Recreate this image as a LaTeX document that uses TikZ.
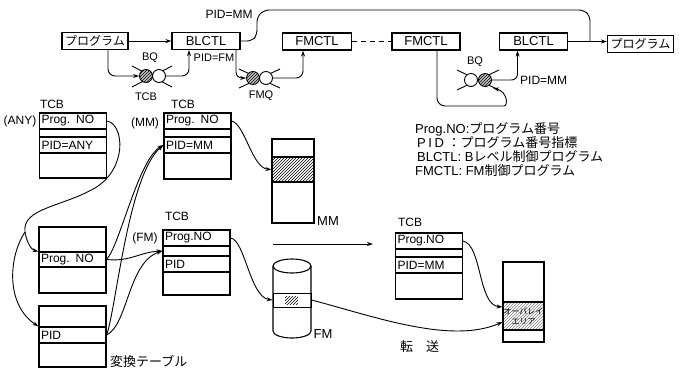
\documentclass[tikz,border=0pt]{standalone}
\usepackage{fontspec}
\setmainfont{Liberation Sans}
\newfontfamily\cjk{Noto Sans CJK JP}
\usetikzlibrary{arrows.meta,patterns}
\begin{document}
\begin{tikzpicture}[x=1pt,y=-1pt,
  box/.style={draw, line width=1.1pt, minimum height=17pt, inner sep=0pt, font=\fontsize{13}{13}\selectfont},
  cell/.style={draw, line width=1.1pt, inner sep=0pt, minimum width=67pt},
  tcell/.style={draw, line width=1.1pt, inner ysep=0pt, inner xsep=2pt, text width=63pt, align=left, minimum height=16pt, font=\fontsize{12}{12}\selectfont},
  lbl/.style={inner sep=0pt, font=\fontsize{12}{12}\selectfont},
  slbl/.style={inner sep=0pt, font=\fontsize{11}{11}\selectfont},
  conn/.style={line width=0.9pt, -{Stealth[length=6pt,width=4pt]}},
  plain/.style={line width=0.9pt},
  qo/.style={circle, draw, line width=0.9pt, minimum size=13pt, inner sep=0pt, fill=white},
  qh/.style={circle, draw, line width=0.9pt, minimum size=13pt, inner sep=0pt, fill=gray!45, postaction={pattern=north east lines}},
  hatch/.style={pattern=north east lines}
]
\useasboundingbox (0,0) rectangle (682,376);

% ---------- top row ----------
\node[box, minimum width=66pt] (prog1) at (95,41) {\cjk\fontsize{12}{12}\selectfont プログラム};
\node[box, minimum width=68pt] (blctl1) at (206,41) {BLCTL};
\node[box, minimum width=69pt] (fmctl1) at (317,41.5) {FMCTL};
\node[box, minimum width=68pt] (fmctl2) at (426,41.5) {FMCTL};
\node[box, minimum width=68pt] (blctl2) at (533.5,41.5) {BLCTL};
\node[box, minimum width=66pt] (prog2) at (640.5,44) {\cjk\fontsize{12}{12}\selectfont プログラム};

\coordinate (jn) at (590,41.5);
\draw[conn] (prog1) -- (blctl1);
\draw[plain, rounded corners=5pt] (blctl1.east) -- (252,41) -- (257,35) -- (257,17) -- (264,10) -- (584,10) -- (590,16) -- (jn);
\node[lbl] (pidmm1) at (229,14) {PID=MM};
\draw[conn] (blctl2.east) -- (blctl2.east -| prog2.west);
\draw[plain, dashed, dash pattern=on 5pt off 4pt] (fmctl1.east) -- (fmctl2.west);

% BQ (left)
\draw[plain] (132,66) -- (172,87);
\draw[plain] (132,87) -- (172,66);
\node[qh] (bq1h) at (146,76) {};
\node[qo] (bq1o) at (159,76) {};
\node[slbl] (bq1l) at (150,58) {BQ};
\node[slbl] (bq1t) at (146,97) {TCB};
\draw[conn, rounded corners=7pt] ([xshift=13pt]prog1.south) |- (bq1h.west);
\draw[conn, rounded corners=7pt] (bq1o.east) -| ([xshift=-17pt]blctl1.south);

% FMQ
\node[slbl] (pidfm) at (214,58) {PID=FM};
\draw[plain] (239,69) -- (280,88);
\draw[plain] (239,88) -- (280,69);
\node[qh] (fmqh) at (253,78) {};
\node[qo] (fmqo) at (266,78) {};
\node[slbl] (fmql) at (261,96) {FMQ};
\draw[conn, rounded corners=6pt] ([xshift=30pt]blctl1.south) |- (fmqh.west);
\draw[conn, rounded corners=7pt] (fmqo.east) -| ([xshift=-14pt]fmctl1.south);

% BQ (right)
\draw[plain] (457,70) -- (499,90);
\draw[plain] (457,90) -- (499,70);
\node[qo] (bq2o) at (471,80) {};
\node[qh] (bq2h) at (485,80) {};
\node[slbl] (bq2l) at (475,62) {BQ};
\draw[conn, rounded corners=6pt] (bq2h.east) -| ([xshift=-16pt]blctl2.south);
\node[lbl, anchor=west] (pidmm2) at (520,80) {PID=MM};
\draw[conn, rounded corners=8pt] ([xshift=11pt]fmctl2.south) |- (496,106) .. controls (508,106) and (508,92) .. (493,88);

% ---------- legend ----------
\node[anchor=west, inner sep=0pt, font=\fontsize{13}{13}\selectfont] (lg1) at (415,129) {Prog.NO:{\cjk プログラム番号}};
\node[anchor=west, inner sep=0pt, font=\fontsize{13}{13}\selectfont] (lg2) at (417,143) {{\addfontfeature{LetterSpace=20}PID} {\cjk ：プログラム番号指標}};
\node[anchor=west, inner sep=0pt, font=\fontsize{13}{13}\selectfont] (lg3) at (417,157) {BLCTL: B{\cjk レベル制御プログラム}};
\node[anchor=west, inner sep=0pt, font=\fontsize{13}{13}\selectfont] (lg4) at (415,171) {FMCTL: FM{\cjk 制御プログラム}};

% ---------- TCB (ANY) ----------
\node[lbl] (tcbany) at (52,104) {TCB};
\node[lbl] (anyl) at (20,121) {(ANY)};
\node[tcell] (any1) at (73,121) {Prog. NO};
\node[cell, minimum height=8pt] (any2) at (73,133) {};
\node[tcell] (any3) at (73,145) {PID=ANY};
\node[cell, minimum height=25pt] (any4) at (73,165.5) {};

% ---------- TCB (MM) ----------
\node[lbl] (tcbmm) at (183,104) {TCB};
\node[lbl] (mml) at (145,123) {(MM)};
\node[tcell] (mm1) at (197.5,121) {Prog. NO};
\node[cell, minimum height=8pt] (mm2) at (197.5,133) {};
\node[tcell] (mm3) at (197.5,145) {PID=MM};
\node[cell, minimum height=26pt] (mm4) at (197.5,166) {};

% ---------- TCB (FM) ----------
\node[lbl] (tcbfm) at (177,216) {TCB};
\node[lbl] (fml) at (145,238) {(FM)};
\node[tcell] (fm1) at (196.5,238) {Prog.NO};
\node[cell, minimum height=10pt] (fm2) at (196.5,251) {};
\node[tcell] (fm3) at (196.5,264) {PID};
\node[cell, minimum height=23pt] (fm4) at (196.5,283.5) {};

% ---------- TCB (right) ----------
\node[lbl] (tcbr) at (410,222) {TCB};
\node[tcell] (r1) at (429,241) {Prog.NO};
\node[cell, minimum height=8pt] (r2) at (429,253) {};
\node[tcell] (r3) at (429,265) {PID=MM};
\node[cell, minimum height=26pt] (r4) at (429,286) {};

% ---------- conversion table ----------
\node[cell, minimum height=25pt] (t1a) at (72.5,239.5) {};
\node[tcell, minimum height=15pt] (t1b) at (72.5,259.5) {Prog. NO};
\node[cell, minimum height=26pt] (t1c) at (72.5,280) {};
\node[cell, minimum height=21pt] (t2a) at (72.5,316.5) {};
\node[tcell] (t2b) at (72.5,335) {PID};
\node[cell, minimum height=24pt] (t2c) at (72.5,355) {};
\node[anchor=west, inner sep=0pt, font=\cjk\fontsize{13}{13}\selectfont] (henkan) at (110,361) {変換テーブル};

% ---------- MM memory ----------
\node[cell, minimum width=42pt, minimum height=84pt] (mmcol) at (293,181) {};
\node[cell, minimum width=42pt, minimum height=25pt, hatch] (mmband) at (293,169.5) {};
\node[inner sep=0pt, font=\fontsize{13}{13}\selectfont] (mmlab) at (328,221) {MM};

% ---------- FM drum ----------
\draw[line width=1.1pt] (292,266) ellipse [x radius=19, y radius=7];
\draw[line width=1.1pt] (273,266) -- (273,331) arc[start angle=180, end angle=0, x radius=19, y radius=7] -- (311,266);
\node[draw, line width=0.9pt, minimum width=38pt, minimum height=14pt, inner sep=0pt] (cylband) at (292,300) {};
\node[minimum width=13pt, minimum height=8pt, inner sep=0pt, hatch] (cylhatch) at (291.5,300.5) {};
\node[inner sep=0pt, font=\fontsize{13}{13}\selectfont] (fmlab) at (323,334) {FM};

% ---------- right memory ----------
\node[cell, minimum width=41pt, minimum height=80pt] (rcol) at (523.5,302) {};
\node[cell, minimum width=41pt, minimum height=28pt, pattern=north east lines, pattern color=gray, align=center, font=\cjk\fontsize{8}{10}\selectfont] (ovl) at (523.5,316) {オーバレイ\\エリア};

% ---------- arrows lower ----------
\coordinate (ha) at (273,244);
\coordinate (hb) at (373,244);
\draw[conn] (ha) -- (hb);

\coordinate (br) at (25,232);
\draw[conn] (any1.east) .. controls (124,124) and (128,168) .. (95,188) .. controls (62,207) and (22,208) .. (br) .. controls (27,244) and (32,250) .. (t1b.north west);
\draw[conn] (br) .. controls (8,258) and (6,305) .. (t2b.north west);

\draw[conn] (t1b.east) .. controls (120,245) and (138,160) .. (mm3.west);
\draw[conn] (t2b.east) .. controls (116,310) and (128,175) .. (mm3.west);
\draw[conn] (t1b.east) .. controls (130,262) and (140,252) .. (fm2.west);
\draw[conn] (t2b.east) .. controls (128,325) and (128,262) .. (fm2.west);

\draw[conn] (mm1.east) .. controls (245,124) and (252,168) .. (mmband.west);
\draw[conn] (fm1.east) .. controls (245,240) and (250,297) .. (cylband.west);
\draw[conn] (r1.east) .. controls (482,245) and (478,305) .. ([yshift=9pt]ovl.west);
\draw[conn] (cylband.east) .. controls (370,315) and (450,345) .. ([yshift=-6pt]ovl.west);
\node[anchor=west, inner sep=0pt, font=\cjk\fontsize{13}{13}\selectfont] (tenso) at (400,347) {転\hspace{1em}送};
\end{tikzpicture}
\end{document}
